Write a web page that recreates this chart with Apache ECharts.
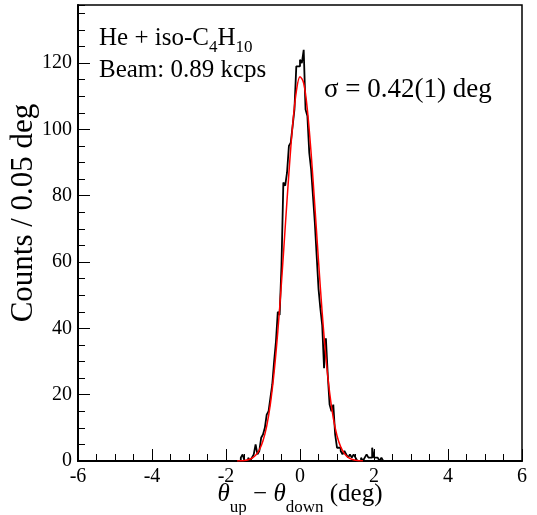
<!DOCTYPE html>
<html><head><meta charset="utf-8">
<script src="https://cdn.jsdelivr.net/npm/echarts@6/dist/echarts.min.js"></script>
<style>html,body{margin:0;padding:0;background:#fff}#c{width:537px;height:515px}</style>
</head><body><div id="c"></div>
<script>
// Histogram: bins of 0.05 deg, first bin starts at -1.70 deg
const binStart = -1.70;
const binWidth = 0.05;
const counts = [
  0, 0, 1, 2, 0, 0, 1, 0, 1, 2,
  5, 2, 3, 7, 8, 10, 14, 15, 19, 23,
  30, 36, 45, 44, 59, 84, 83, 87, 95, 96,
  101, 106, 119, 119, 121, 120, 124, 106, 104, 93,
  88, 80, 72, 62, 52, 46, 41, 28, 37, 26,
  17, 15, 17, 8, 4, 4, 3, 2, 3, 2,
  1, 2, 1, 2, 1, 0, 0, 1, 0, 1,
  2, 1, 1, 4, 1, 1, 1, 0, 1
];
// Gaussian fit curve
const fitX = [-1.7,-1.6,-1.5,-1.4,-1.3,-1.2,-1.1,-1.0,-0.9,-0.8,-0.7,-0.6,-0.5,-0.4,-0.3,-0.2,-0.1,
  0.0,0.1,0.2,0.3,0.4,0.5,0.6,0.7,0.8,0.9,1.0,1.1,1.2,1.3,1.4,1.5,1.6,1.7];
const fitY = [0.026,0.068,0.166,0.383,0.83,1.71,3.31,6.08,10.53,17.25,26.7,39.0,53.9,70.4,86.8,101.1,111.4,
  115.9,113.9,105.8,92.9,77.0,60.4,44.7,31.3,20.7,12.9,7.63,4.25,2.24,1.12,0.52,0.23,0.098,0.039];
const xRange = [-6, 6];
const yRange = [0, 137.5];

const histPts = [[xRange[0], 0]];
counts.forEach((c, i) => histPts.push([binStart + i * binWidth, c]));
histPts.push([binStart + counts.length * binWidth, 0]);
histPts.push([xRange[1], 0]);
const fitPts = fitX.map((x, i) => [x, fitY[i]]);

const FONT = 'Liberation Serif';
const chart = echarts.init(document.getElementById('c'), null, {renderer: 'canvas'});
chart.setOption({
  animation: false,
  backgroundColor: '#fff',
  grid: {left: 78, right: 15, top: 5, bottom: 54, containLabel: false, outerBoundsMode: 'none',
         show: true, borderColor: '#000', borderWidth: 1.5, backgroundColor: 'transparent'},
  xAxis: {
    type: 'value', min: xRange[0], max: xRange[1], interval: 2,
    axisLine: {show: true, onZero: false, lineStyle: {color: '#000', width: 2}},
    axisTick: {show: true, inside: true, length: 12, lineStyle: {color: '#000', width: 1}},
    minorTick: {show: true, splitNumber: 4, length: 7, lineStyle: {color: '#000', width: 1}},
    splitLine: {show: false}, minorSplitLine: {show: false},
    axisLabel: {color: '#000', fontFamily: FONT, fontSize: 20, margin: 6, showMinLabel: true, showMaxLabel: true}
  },
  yAxis: [{
    type: 'value', min: yRange[0], max: yRange[1], interval: 20,
    axisLine: {show: true, onZero: false, lineStyle: {color: '#000', width: 2}},
    axisTick: {show: true, inside: true, length: 12, lineStyle: {color: '#000', width: 1}},
    splitLine: {show: false},
    axisLabel: {color: '#000', fontFamily: FONT, fontSize: 20, margin: 6, showMaxLabel: false}
  }, {
    type: 'value', min: yRange[0], max: yRange[1], interval: 5, position: 'left', offset: 0,
    axisLine: {show: false, onZero: false},
    axisTick: {show: true, inside: true, length: 7, lineStyle: {color: '#000', width: 1}},
    splitLine: {show: false},
    axisLabel: {show: false}
  }],
  series: [{
    type: 'line', step: 'end', data: histPts, showSymbol: false, symbol: 'none',
    lineStyle: {color: '#000', width: 1.8}, z: 3
  }, {
    type: 'line', smooth: 0.35, data: fitPts, showSymbol: false, symbol: 'none',
    lineStyle: {color: '#ff0000', width: 1.5}, z: 4
  }],
  graphic: [
    {type: 'text', x: 99, y: 26, z: 10, style: {
      text: '{a|He + iso-C}{s|4}{a|H}{s|10}', verticalAlign: 'top', align: 'left',
      rich: {a: {fontFamily: FONT, fontSize: 25, lineHeight: 28, verticalAlign: 'top', fill: '#000'},
             s: {fontFamily: FONT, fontSize: 17, lineHeight: 17, padding: [13, 0, 0, 0], verticalAlign: 'top', fill: '#000'}}
    }},
    {type: 'text', x: 99, y: 56, z: 10, style: {
      text: '{a|Beam: 0.89 kcps}', verticalAlign: 'top', align: 'left',
      rich: {a: {fontFamily: FONT, fontSize: 25, lineHeight: 28, fill: '#000'}}
    }},
    {type: 'text', x: 324, y: 75, z: 10, style: {
      text: '{a|σ = 0.42(1) deg}', verticalAlign: 'top', align: 'left',
      rich: {a: {fontFamily: FONT, fontSize: 27, lineHeight: 30, fill: '#000'}}
    }},
    {type: 'text', x: 300, y: 482, z: 10, style: {
      text: '{i|θ}{s|up}{a| − }{i|θ}{s|down}{a| (deg)}', verticalAlign: 'top', align: 'center',
      rich: {a: {fontFamily: FONT, fontSize: 25, lineHeight: 30, verticalAlign: 'top', fill: '#000'},
             i: {fontFamily: FONT, fontSize: 25, fontStyle: 'italic', lineHeight: 30, verticalAlign: 'top', fill: '#000'},
             s: {fontFamily: FONT, fontSize: 17, lineHeight: 17, padding: [17, 0, 0, 0], verticalAlign: 'top', fill: '#000'}}
    }},
    {type: 'text', x: 24, y: 213, rotation: Math.PI / 2, z: 10, style: {
      text: 'Counts / 0.05 deg', fontFamily: FONT, fontSize: 31, fill: '#000',
      align: 'center', verticalAlign: 'middle'
    }}
  ]
});
</script></body></html>
